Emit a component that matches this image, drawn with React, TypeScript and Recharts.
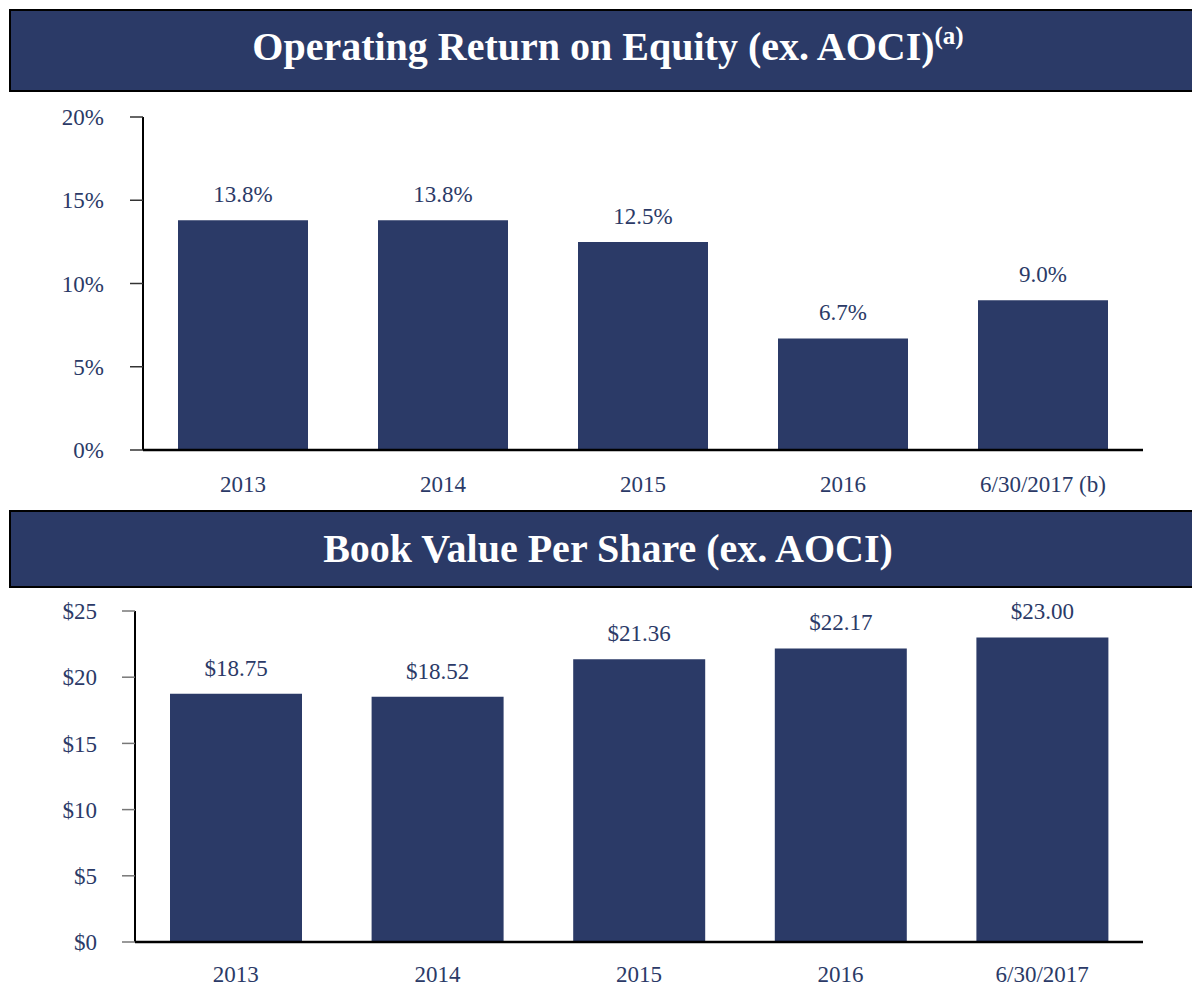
import React from "react";
import { BarChart, Bar, XAxis, YAxis, LabelList } from "recharts";

const roeCategories = ["2013", "2014", "2015", "2016", "6/30/2017 (b)"];
const roeValues = [13.8, 13.8, 12.5, 6.7, 9.0];
const roeTicks = [0, 5, 10, 15, 20];

const bvpsCategories = ["2013", "2014", "2015", "2016", "6/30/2017"];
const bvpsValues = [18.75, 18.52, 21.36, 22.17, 23.0];
const bvpsTicks = [0, 5, 10, 15, 20, 25];

const NAVY = "#2B3A67";
const FONT = "'Liberation Serif', 'Times New Roman', serif";

const roeData = roeCategories.map((c, i) => ({ name: c, value: roeValues[i] }));
const bvpsData = bvpsCategories.map((c, i) => ({ name: c, value: bvpsValues[i] }));

const tickStyle = { fill: NAVY, fontSize: 23, fontFamily: FONT };

function Banner({ top, height, children, pad }: { top: number; height: number; children: React.ReactNode; pad: number }) {
  return (
    <div
      style={{
        position: "absolute",
        left: 9,
        top,
        width: 1200,
        height,
        boxSizing: "border-box",
        background: NAVY,
        border: "2px solid #000",
        display: "flex",
        alignItems: "center",
        justifyContent: "center",
        color: "#fff",
        fontFamily: FONT,
        fontWeight: "bold",
        fontSize: 40,
        paddingBottom: pad,
        paddingRight: 2,
      }}
    >
      <span>{children}</span>
    </div>
  );
}

export default function App() {
  return (
    <div style={{ position: "absolute", left: 0, top: 0, width: 1192, height: 987, background: "#fff", overflow: "hidden", fontFamily: FONT }}>
      <style>{`svg text, .recharts-text { font-family: 'Liberation Serif', 'Times New Roman', serif !important; }`}</style>
      <Banner top={9} height={83} pad={8}>
        Operating Return on Equity (ex. AOCI)
        <sup style={{ fontSize: 25, position: "relative", top: -2 }}>(a)</sup>
      </Banner>

      <div style={{ position: "absolute", left: 0, top: 100 }}>
        <BarChart
          width={1192}
          height={400}
          data={roeData}
          margin={{ top: 17, right: 49, left: 0, bottom: 0 }}
          barCategoryGap={35}
        >
          <XAxis
            dataKey="name"
            axisLine={{ stroke: "#000", strokeWidth: 2.5 }}
            tickLine={false}
            tickSize={0}
            tickMargin={26}
            height={50}
            tick={tickStyle}
            interval={0}
          />
          <YAxis
            width={143}
            domain={[0, 20]}
            ticks={roeTicks}
            tickFormatter={(v: number) => `${v}%`}
            axisLine={{ stroke: "#000", strokeWidth: 2 }}
            tickLine={{ stroke: "#333", strokeWidth: 1.5 }}
            tickSize={13}
            tickMargin={26}
            tick={tickStyle}
            interval={0}
          />
          <Bar dataKey="value" fill={NAVY} isAnimationActive={false}>
            <LabelList
              dataKey="value"
              position="top"
              offset={18}
              formatter={(v: number) => `${v.toFixed(1)}%`}
              style={{ fill: NAVY, fontSize: 23, fontFamily: FONT }}
            />
          </Bar>
        </BarChart>
      </div>

      <Banner top={510} height={78} pad={2}>
        Book Value Per Share (ex. AOCI)
      </Banner>

      <div style={{ position: "absolute", left: 0, top: 595 }}>
        <BarChart
          width={1192}
          height={392}
          data={bvpsData}
          margin={{ top: 16, right: 49, left: 0, bottom: 0 }}
          barCategoryGap={35}
        >
          <XAxis
            dataKey="name"
            axisLine={{ stroke: "#000", strokeWidth: 2.5 }}
            tickLine={false}
            tickSize={0}
            tickMargin={24}
            height={45}
            tick={tickStyle}
            interval={0}
          />
          <YAxis
            width={135}
            domain={[0, 25]}
            ticks={bvpsTicks}
            tickFormatter={(v: number) => `$${v}`}
            axisLine={{ stroke: "#000", strokeWidth: 2 }}
            tickLine={{ stroke: "#777", strokeWidth: 1.5 }}
            tickSize={13}
            tickMargin={25}
            tick={tickStyle}
            interval={0}
          />
          <Bar dataKey="value" fill={NAVY} isAnimationActive={false}>
            <LabelList
              dataKey="value"
              position="top"
              offset={18}
              formatter={(v: number) => `$${v.toFixed(2)}`}
              style={{ fill: NAVY, fontSize: 23, fontFamily: FONT }}
            />
          </Bar>
        </BarChart>
      </div>
    </div>
  );
}
